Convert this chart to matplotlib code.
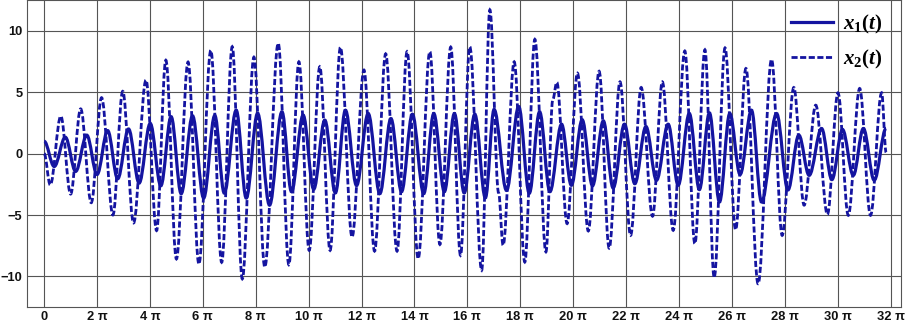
import numpy as np
import matplotlib
matplotlib.use("Agg")
import matplotlib.pyplot as plt
from matplotlib.path import Path
from matplotlib.patches import PathPatch
from matplotlib.lines import Line2D

plt.rcParams['font.family'] = 'Liberation Sans'
plt.rcParams['mathtext.fontset'] = 'custom'
plt.rcParams['mathtext.it'] = 'Liberation Serif:italic:bold'
plt.rcParams['mathtext.rm'] = 'Liberation Serif:bold'

# extrema of x1(t): time in units of pi, value
x1_t = [0.00, 0.38, 0.80, 1.19, 1.61, 2.00, 2.40, 2.78, 3.19, 3.59,
        4.01, 4.41, 4.80, 5.18, 5.61, 6.03, 6.45, 6.81, 7.26, 7.64,
        8.07, 8.52, 8.99, 9.35, 9.79, 10.19, 10.61, 11.01, 11.39, 11.81,
        12.25, 12.69, 13.11, 13.51, 13.92, 14.35, 14.73, 15.13, 15.51, 15.88,
        16.28, 16.68, 17.01, 17.48, 17.94, 18.34, 18.73, 19.12, 19.56, 19.93,
        20.34, 20.73, 21.14, 21.51, 21.94, 22.33, 22.75, 23.15, 23.59, 23.97,
        24.39, 24.77, 25.15, 25.53, 25.92, 26.31, 26.74, 27.12, 27.69, 28.12,
        28.53, 28.92, 29.39, 29.78, 30.18, 30.59, 30.97, 31.38, 31.83]
x1_v = [1.0, -1.05, 1.33, -1.45, 1.5, -1.7, 1.87, -2.05, 2.0, -2.4,
        2.45, -2.62, 3.0, -3.26, 3.07, -3.62, 3.1, -3.22, 3.53, -3.62,
        3.28, -4.2, 3.4, -3.1, 3.13, -2.9, 2.72, -3.2, 3.53, -2.6,
        3.26, -3.26, 2.85, -3.1, 3.2, -3.26, 3.26, -3.1, 3.26, -3.2,
        3.2, -3.6, 3.59, -3.0, 3.83, -3.23, 3.4, -3.1, 2.39, -2.58,
        2.75, -2.62, 2.66, -2.8, 2.39, -2.45, 2.2, -2.17, 2.39, -2.58,
        3.26, -2.93, 3.31, -3.94, 3.26, -1.7, 3.53, -3.94, 3.26, -2.96,
        1.5, -1.77, 2.04, -2.12, 1.96, -1.77, 2.04, -2.17, 2.05]

# extrema of x2(t)
x2_t = [0.00, 0.23, 0.63, 1.00, 1.38, 1.78, 2.17, 2.60, 2.97, 3.38,
        3.85, 4.25, 4.60, 5.00, 5.44, 5.85, 6.30, 6.71, 7.11, 7.49,
        7.93, 8.34, 8.85, 9.25, 9.63, 10.02, 10.42, 10.81, 11.20, 11.64,
        12.09, 12.49, 12.91, 13.34, 13.72, 14.14, 14.58, 14.96, 15.37, 15.74,
        16.09, 16.54, 16.85, 17.18, 17.35, 17.77, 18.17, 18.55, 18.97, 19.23,
        19.38, 19.77, 20.16, 20.57, 20.98, 21.36, 21.77, 22.17, 22.57, 23.00,
        23.37, 23.78, 24.22, 24.60, 24.98, 25.33, 25.74, 26.14, 26.53, 26.99,
        27.50, 27.90, 28.34, 28.73, 29.17, 29.61, 30.01, 30.40, 30.83, 31.24,
        31.66, 31.83]
x2_v = [0.0, -2.55, 3.04, -3.3, 3.64, -4.0, 4.55, -5.0, 5.07, -5.65,
        5.98, -6.27, 7.6, -8.58, 7.45, -9.0, 8.4, -8.85, 8.7, -10.2,
        7.85, -9.24, 8.98, -9.05, 7.47, -7.88, 7.07, -7.88, 8.65, -6.8,
        6.8, -7.94, 8.12, -7.94, 8.3, -8.56, 8.3, -7.4, 8.67, -8.29,
        8.7, -9.5, 11.7, -3.2, -7.47, 7.47, -8.83, 9.3, -8.0, 4.4,
        5.8, -5.7, 6.55, -6.3, 6.7, -7.7, 5.84, -6.66, 5.38, -5.1,
        5.84, -6.25, 8.35, -7.34, 8.45, -10.1, 8.6, -6.2, 6.93, -10.6,
        7.66, -6.66, 5.38, -4.2, 3.94, -4.95, 4.95, -5.03, 5.3, -5.03,
        4.95, 0.1]

xtick_k = list(range(0, 33, 2))
xtick_labels = ['0'] + ['%d \u03c0' % k for k in xtick_k[1:]]
ytick_vals = [-10, -5, 0, 5, 10]

color = '#1414a0'


def smooth_path(t, v, k=0.36):
    verts = [(t[0], v[0])]
    codes = [Path.MOVETO]
    for i in range(len(t) - 1):
        dt = t[i + 1] - t[i]
        verts += [(t[i] + k * dt, v[i]), (t[i + 1] - k * dt, v[i + 1]), (t[i + 1], v[i + 1])]
        codes += [Path.CURVE4] * 3
    return Path(verts, codes)


fig = plt.figure(figsize=(9.05, 3.24), dpi=100)
ax = fig.add_axes([0.030, 0.052, 0.9655, 0.948])

t1 = np.array(x1_t) * np.pi
t2 = np.array(x2_t) * np.pi
dash = (0, (2.2, 0.9))
ax.add_patch(PathPatch(smooth_path(t1, x1_v), fill=False, ec=color, lw=2.3, zorder=3))
ax.add_patch(PathPatch(smooth_path(t2, x2_v), fill=False, ec=color, lw=2.0,
                       ls=dash, zorder=3))

ax.set_xlim(-0.643 * np.pi, 32.39 * np.pi)
ax.set_ylim(-12.5, 12.5)
ax.set_xticks([k * np.pi for k in xtick_k])
ax.set_xticklabels(xtick_labels)
ax.set_yticks(ytick_vals)
ax.grid(True, color='#555555', lw=0.8)
ax.set_axisbelow(True)
ax.tick_params(length=0, labelsize=9.3, colors='#111111')
ax.tick_params(axis='x', pad=2.5)
ax.tick_params(axis='y', pad=3.5)
for lab in ax.get_xticklabels() + ax.get_yticklabels():
    lab.set_fontweight('bold')
for s in ax.spines.values():
    s.set_color('#555555')
    s.set_linewidth(0.8)

handles = [Line2D([], [], color=color, lw=2.3),
           Line2D([], [], color=color, lw=2.0, ls=dash)]
ax.legend(handles, [r'$x_{\mathit{1}}(t)$', r'$x_{\mathit{2}}(t)$'],
          loc='upper right', bbox_to_anchor=(1.0, 1.02), frameon=False,
          fontsize=15, handlelength=2.0, handletextpad=0.5, labelspacing=0.6)

fig.savefig('out.png', dpi=100)
